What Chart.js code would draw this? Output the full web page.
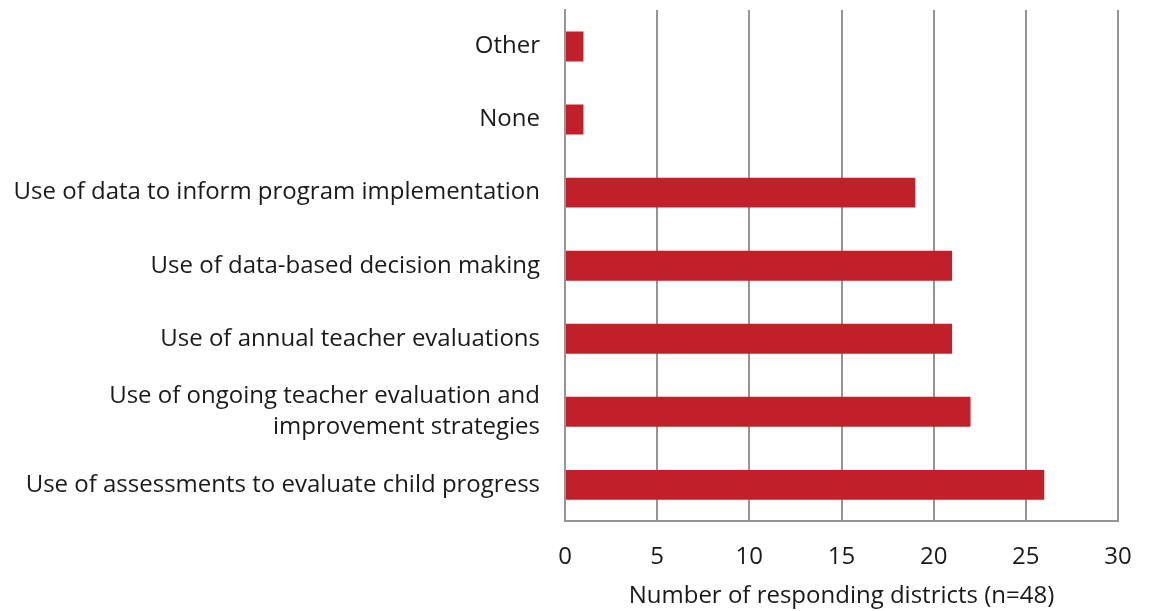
<!DOCTYPE html>
<html>
<head>
<meta charset="utf-8">
<script src="https://cdn.jsdelivr.net/npm/chart.js@4/dist/chart.umd.min.js"></script>
<style>
  html, body { margin: 0; padding: 0; background: #fff; }
  #wrap { width: 1150px; height: 611px; position: relative; }
</style>
</head>
<body>
<div id="wrap"><canvas id="chart"></canvas></div>
<script>
// ── DATA ──
const categories = [
  'Other',
  'None',
  'Use of data to inform program implementation',
  'Use of data-based decision making',
  'Use of annual teacher evaluations',
  ['Use of ongoing teacher evaluation and', 'improvement strategies'],
  'Use of assessments to evaluate child progress',
];
const districtCounts = [1, 1, 19, 21, 21, 22, 26];
const xTicks = [0, 5, 10, 15, 20, 25, 30];
const xTitle = 'Number of responding districts (n=48)';

const BAR_RED   = '#c1202a';
const GRID_GREY = '#959595';
const FONT = 'Open Sans';

new Chart(document.getElementById('chart').getContext('2d'), {
  type: 'bar',
  data: {
    labels: categories,
    datasets: [{
      data: districtCounts,
      backgroundColor: BAR_RED,
      borderWidth: 0,
      barPercentage: 0.41,
      categoryPercentage: 1,
    }]
  },
  options: {
    indexAxis: 'y',
    responsive: true, maintainAspectRatio: false,
    animation: false,
    layout: { padding: { top: 10, right: 32, bottom: 0, left: 12 } },
    plugins: { legend: { display: false }, tooltip: { enabled: false } },
    scales: {
      x: {
        min: 0, max: 30,
        afterBuildTicks: axis => { axis.ticks = xTicks.map(v => ({ value: v })); },
        afterFit: axis => { axis.paddingLeft = 0; axis.paddingRight = 0; },
        grid: { color: GRID_GREY, lineWidth: 2, drawTicks: false },
        border: { color: GRID_GREY, width: 2 },
        ticks: { color: '#1a1a1a', padding: 21, font: { family: FONT, size: 24 } },
        title: { display: true, text: xTitle, color: '#1a1a1a', padding: { top: -10, bottom: 0 }, font: { family: FONT, size: 24 } },
      },
      y: {
        afterFit: axis => { axis.paddingTop = 0; axis.paddingBottom = 0; },
        grid: { display: false, drawTicks: false },
        border: { color: GRID_GREY, width: 2 },
        ticks: { color: '#1a1a1a', padding: 25, font: { family: FONT, size: 24, lineHeight: 1.3 } },
      }
    }
  }
});
</script>
</body>
</html>
